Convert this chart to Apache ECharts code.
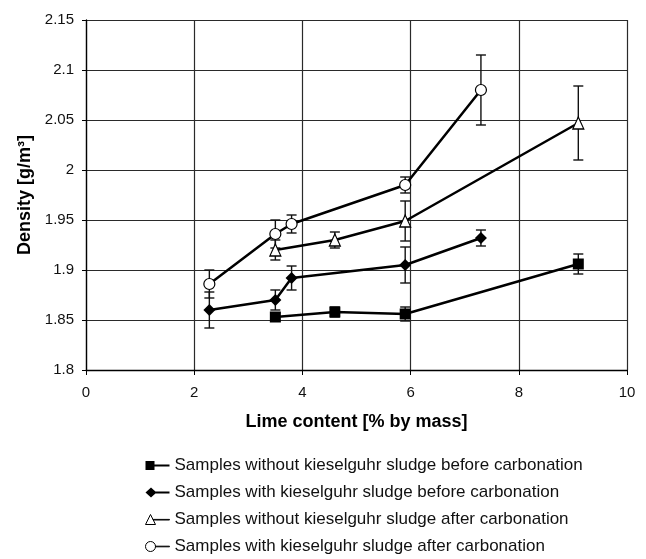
<!DOCTYPE html>
<html>
<head>
<meta charset="utf-8">
<script src="https://cdn.jsdelivr.net/npm/echarts@6/dist/echarts.min.js"></script>
<style>
  html, body { margin: 0; padding: 0; background: #fff; }
  #chart { width: 646px; height: 559px; }
</style>
</head>
<body>
<div id="chart"></div>
<script>
/* ---------- data ---------- */
const seriesNames = [
    'Samples without kieselguhr sludge before carbonation',
    'Samples with kieselguhr sludge before carbonation',
    'Samples without kieselguhr sludge after carbonation',
    'Samples with kieselguhr sludge after carbonation'
];
// lime content [% by mass]
const limeNoKgBefore = [3.5, 4.6, 5.9, 9.1];
const limeKgBefore = [2.28, 3.5, 3.8, 5.9, 7.3];
const limeNoKgAfter = [3.5, 4.6, 5.9, 9.1];
const limeKgAfter = [2.28, 3.5, 3.8, 5.9, 7.3];
// density
const densNoKgBefore = [1.853, 1.858, 1.856, 1.906];
const densKgBefore = [1.860, 1.870, 1.892, 1.905, 1.932];
const densNoKgAfter = [1.920, 1.930, 1.949, 2.047];
const densKgAfter = [1.886, 1.936, 1.946, 1.985, 2.080];
// error bar half widths
const errNoKgBefore = [0.004, 0.005, 0.007, 0.010];
const errKgBefore = [0.018, 0.010, 0.012, 0.018, 0.008];
const errNoKgAfter = [0.010, 0.008, 0.020, 0.037];
const errKgAfter = [0.014, 0.014, 0.009, 0.008, 0.035];

const xTicks = { min: 0, max: 10, interval: 2 };
const yTicks = { min: 1.8, max: 2.15, interval: 0.05 };

/* ---------- helpers ---------- */
const FONT = '"Liberation Sans", Arial, Helvetica, sans-serif';
const pts = (xs, ys) => xs.map((x, i) => [x, ys[i]]);
const bars = (xs, ys, es) => xs.map((x, i) => [x, ys[i] - es[i], ys[i] + es[i]]);

function errorSeries(data) {
    return {
        type: 'custom',
        silent: true,
        z: 1,
        encode: { x: 0, y: [1, 2] },
        data,
        renderItem: (params, api) => {
            const x = api.value(0);
            const lo = api.coord([x, api.value(1)]);
            const hi = api.coord([x, api.value(2)]);
            const st = { stroke: '#111', lineWidth: 1.4 };
            const cap = 5;
            return {
                type: 'group',
                children: [
                    { type: 'line', shape: { x1: lo[0], y1: lo[1], x2: hi[0], y2: hi[1] }, style: st },
                    { type: 'line', shape: { x1: lo[0] - cap, y1: lo[1], x2: lo[0] + cap, y2: lo[1] }, style: st },
                    { type: 'line', shape: { x1: hi[0] - cap, y1: hi[1], x2: hi[0] + cap, y2: hi[1] }, style: st }
                ]
            };
        }
    };
}

function lineSeries(name, data, symbol, size, hollow) {
    return {
        name, type: 'line', data, z: 3,
        symbol, symbolSize: size,
        lineStyle: { color: '#000', width: 2.5 },
        itemStyle: hollow
            ? { color: '#fff', borderColor: '#000', borderWidth: 1.2 }
            : { color: '#000', borderColor: '#000', borderWidth: 0 }
    };
}

/* legend icons: marker at left, line to the right */
const iconSquare = 'path://M0 0.5L9 0.5L9 9.5L0 9.5ZM9 4.1L24 4.1L24 5.9L9 5.9Z';
const iconDiamond = 'path://M5.5 0L11 5L5.5 10L0 5ZM10 4.1L24 4.1L24 5.9L10 5.9Z';
const iconTriangle = 'path://M5 0L10 10L0 10ZM7.6 4.9L24 4.9L24 5.5L7.6 5.5Z';
const iconCircle = 'path://M0 5A5 5 0 1 1 10 5A5 5 0 1 1 0 5ZM10 4.7L24 4.7L24 5.3L10 5.3Z';

const chart = echarts.init(document.getElementById('chart'));
chart.setOption({
    animation: false,
    backgroundColor: '#fff',
    textStyle: { fontFamily: FONT, color: '#000' },
    grid: { left: 86, right: 19, top: 20, bottom: 189 },
    xAxis: {
        type: 'value', ...xTicks,
        name: 'Lime content [% by mass]',
        nameLocation: 'middle', nameGap: 43,
        nameTextStyle: { fontFamily: FONT, fontSize: 18, fontWeight: 'bold', color: '#000' },
        axisLine: { show: true, onZero: false, lineStyle: { color: '#000', width: 1.3 } },
        axisTick: { show: true, length: 5, lineStyle: { color: '#000' } },
        axisLabel: { margin: 15, fontFamily: FONT, fontSize: 15, color: '#111' },
        splitLine: { show: true, lineStyle: { color: '#2a2a2a', width: 1.2 } }
    },
    yAxis: {
        type: 'value', ...yTicks,
        name: 'Density [g/m³]',
        nameLocation: 'middle', nameGap: 52,
        nameTextStyle: { fontFamily: FONT, fontSize: 18, fontWeight: 'bold', color: '#000' },
        axisLine: { show: true, onZero: false, lineStyle: { color: '#000', width: 1.3 } },
        axisTick: { show: true, length: 4, lineStyle: { color: '#000' } },
        axisLabel: {
            margin: 12, fontFamily: FONT, fontSize: 15, color: '#111',
            formatter: v => String(parseFloat(v.toFixed(2)))
        },
        splitLine: { show: true, lineStyle: { color: '#2a2a2a', width: 1.2 } }
    },
    legend: {
        orient: 'vertical',
        left: 145, top: 457,
        padding: 0,
        itemWidth: 24, itemHeight: 10, itemGap: 10,
        textStyle: { fontFamily: FONT, fontSize: 17, color: '#111' },
        data: [
            { name: seriesNames[0], icon: iconSquare, itemStyle: { color: '#000', borderWidth: 0 } },
            { name: seriesNames[1], icon: iconDiamond, itemStyle: { color: '#000', borderWidth: 0 } },
            { name: seriesNames[2], icon: iconTriangle, itemStyle: { color: '#fff', borderColor: '#000', borderWidth: 1 } },
            { name: seriesNames[3], icon: iconCircle, itemStyle: { color: '#fff', borderColor: '#000', borderWidth: 1 } }
        ]
    },
    series: [
        errorSeries(bars(limeNoKgBefore, densNoKgBefore, errNoKgBefore)),
        errorSeries(bars(limeKgBefore, densKgBefore, errKgBefore)),
        errorSeries(bars(limeNoKgAfter, densNoKgAfter, errNoKgAfter)),
        errorSeries(bars(limeKgAfter, densKgAfter, errKgAfter)),
        lineSeries(seriesNames[0], pts(limeNoKgBefore, densNoKgBefore), 'rect', 11, false),
        lineSeries(seriesNames[1], pts(limeKgBefore, densKgBefore), 'diamond', 12, false),
        lineSeries(seriesNames[2], pts(limeNoKgAfter, densNoKgAfter), 'triangle', [11, 12], true),
        lineSeries(seriesNames[3], pts(limeKgAfter, densKgAfter), 'circle', 11, true)
    ]
});
window.addEventListener('resize', () => chart.resize());
</script>
</body>
</html>
